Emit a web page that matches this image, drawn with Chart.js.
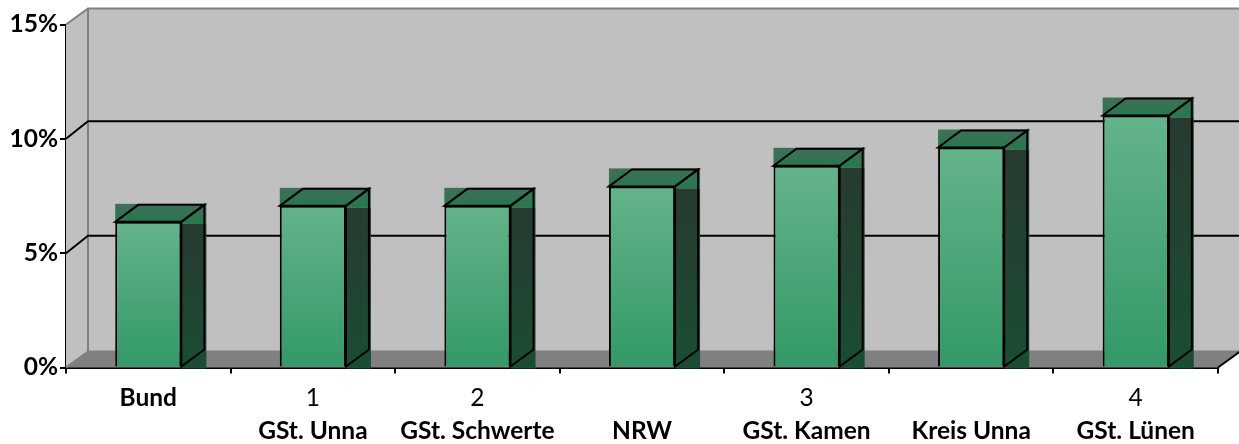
<!DOCTYPE html>
<html><head><meta charset="utf-8">
<style>html,body{margin:0;padding:0;background:#fff}#w{width:1239px;height:444px;position:relative}</style>
<script src="https://cdn.jsdelivr.net/npm/chart.js@4/dist/chart.umd.js"></script>
</head><body><div id="w"><canvas id="c" width="1239" height="444"></canvas></div>
<script>
const upperLabels = ['Bund','1','2','','3','','4'];
const lowerLabels = ['','GSt. Unna','GSt. Schwerte','NRW','GSt. Kamen','Kreis Unna','GSt. Lünen'];
const values = [6.37,7.07,7.07,7.92,8.82,9.62,11.02];
const yTicks = [0,5,10,15];
const DX = 22, DY = 16, GRID_DY = 17.5, BDX = 23, BDY = 17;
const FONT = 'Lato, Carlito, sans-serif';

function vgrad(ctx,y0,y1,a,b){const g=ctx.createLinearGradient(0,y0,0,y1);g.addColorStop(0,a);g.addColorStop(1,b);return g;}
function poly(ctx,pts){ctx.beginPath();pts.forEach((p,i)=>i?ctx.lineTo(p[0],p[1]):ctx.moveTo(p[0],p[1]));ctx.closePath();}

const scene = {
  id:'scene',
  beforeDatasetsDraw(chart){
    const {ctx,chartArea:a,scales:{y}}=chart;
    const L=a.left,R=a.right,T=y.getPixelForValue(15),B=y.getPixelForValue(0);
    ctx.save();
    ctx.fillStyle='#c0c0c0';
    poly(ctx,[[L,T],[L+DX,T-DY],[L+DX,B-DY],[L,B]]);ctx.fill();
    ctx.fillRect(L+DX,T-DY,R-L,B-T);
    ctx.fillStyle='#808080';
    poly(ctx,[[L,B],[L+DX,B-DY],[R+DX,B-DY],[R,B]]);ctx.fill();
    ctx.strokeStyle='#808080';ctx.lineWidth=2;
    ctx.beginPath();
    ctx.moveTo(L,T);ctx.lineTo(L+DX,T-DY);ctx.lineTo(R+DX,T-DY);
    ctx.moveTo(L+DX,T-DY);ctx.lineTo(L+DX,B-DY);ctx.lineTo(R+DX,B-DY);
    ctx.moveTo(L,B);ctx.lineTo(L+DX,B-DY);
    ctx.stroke();
    ctx.strokeStyle='#000';ctx.lineWidth=2;
    ctx.beginPath();
    yTicks.filter(v=>v>0&&v<15).forEach(v=>{
      const p=y.getPixelForValue(v);
      ctx.moveTo(L,p);ctx.lineTo(L+DX,p-GRID_DY);ctx.lineTo(R+DX,p-GRID_DY);
    });
    ctx.moveTo(R,B);ctx.lineTo(R+DX,B-DY);
    ctx.stroke();
    chart.getDatasetMeta(0).data.forEach(el=>{
      const x0=el.x-el.width/2,x1=el.x+el.width/2,t=el.y,b=el.base;
      ctx.fillStyle=vgrad(ctx,t-BDY,t+1,'#3f6f58','#26784d');
      ctx.fillRect(x0,t-BDY-1,x1-x0+BDX+2,BDY+3);
      ctx.fillStyle=vgrad(ctx,t,b,'#283a30','#1a4d33');
      ctx.fillRect(x1,t+2,BDX+2,b-t);
      ctx.strokeStyle='#000';ctx.lineWidth=2;ctx.lineJoin='miter';
      poly(ctx,[[x0,t],[x0+BDX,t-BDY],[x1+BDX,t-BDY],[x1,t]]);ctx.stroke();
      poly(ctx,[[x1,t],[x1+BDX,t-BDY],[x1+BDX,b-BDY],[x1,b]]);ctx.stroke();
    });
    ctx.restore();
  }
};

new Chart(document.getElementById('c'),{
  type:'bar',
  data:{labels:upperLabels,datasets:[{
    data:values,
    barPercentage:0.402,categoryPercentage:1,
    borderColor:'#000',borderWidth:2,
    backgroundColor(c){
      const ch=c.chart;
      if(!ch.chartArea) return '#4aa277';
      const y=ch.scales.y;
      return vgrad(ch.ctx,y.getPixelForValue(values[c.dataIndex]),y.getPixelForValue(0),'#64b38b','#339966');
    }
  }]},
  plugins:[scene],
  options:{
    responsive:false,animation:false,
    layout:{padding:{top:24.5,right:21,left:0,bottom:0}},
    plugins:{legend:{display:false},title:{display:false},tooltip:{enabled:false}},
    scales:{
      y:{
        min:0,max:15,
        afterFit(s){s.width=66;},
        afterBuildTicks(s){s.ticks=yTicks.map(v=>({value:v}));},
        border:{display:true,color:'#000',width:2},
        grid:{drawOnChartArea:false,drawTicks:true,tickLength:6,color:'#000',lineWidth:2},
        ticks:{padding:2,color:'#000',font:{family:FONT,size:24.5,weight:'bold'},callback:v=>v+'%'}
      },
      x:{
        position:'bottom',
        afterFit(s){s.height=46;},
        border:{display:true,color:'#000',width:2},
        grid:{offset:true,drawOnChartArea:false,drawTicks:true,tickLength:6,color:'#000',lineWidth:2},
        ticks:{padding:10,color:'#000',maxRotation:0,autoSkip:false,
          font(c){return {family:FONT,size:24.5,weight:c.index===0?'bold':'normal'};}}
      },
      x2:{
        type:'category',position:'bottom',labels:lowerLabels,
        afterFit(s){s.height=30.5;},
        border:{display:false},
        grid:{display:false,drawTicks:false},
        ticks:{padding:3,color:'#000',maxRotation:0,autoSkip:false,font:{family:FONT,size:24.5,weight:'bold'}}
      }
    }
  }
});
</script></body></html>
